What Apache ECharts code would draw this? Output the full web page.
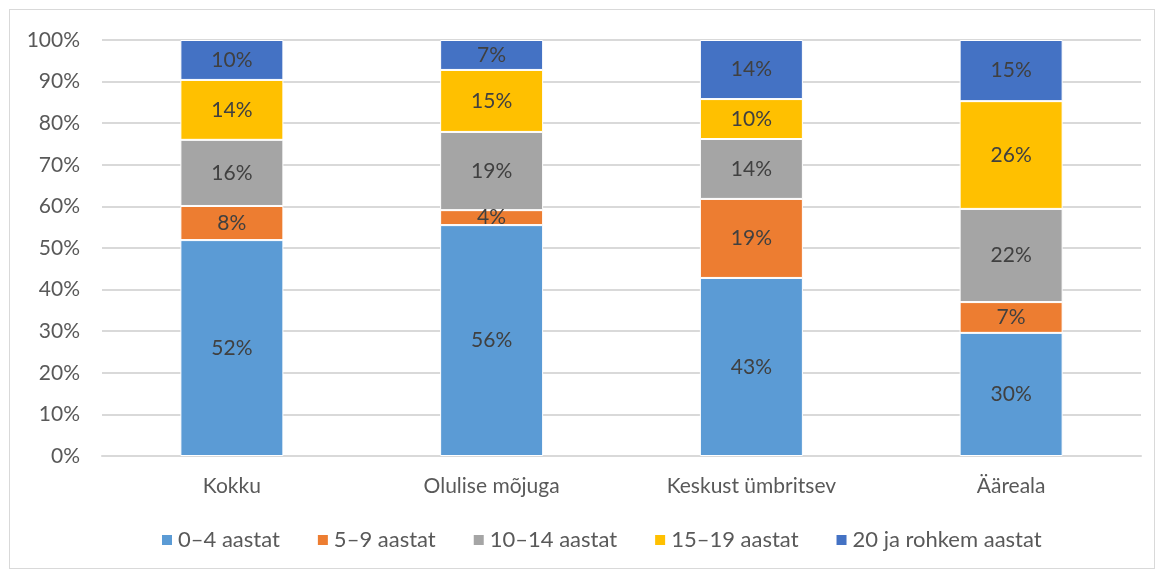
<!DOCTYPE html>
<html>
<head>
<meta charset="utf-8">
<script src="https://cdn.jsdelivr.net/npm/echarts@6/dist/echarts.min.js"></script>
<style>
  html, body { margin: 0; padding: 0; background: #fff; }
  #frame { position: absolute; left: 9px; top: 9px; width: 1146px; height: 560px; border: 1px solid #d9d9d9; box-sizing: border-box; }
  #chart { width: 1163px; height: 571px; }
</style>
</head>
<body>
<div id="frame"></div>
<div id="chart"></div>
<script>
// categories and series (percent shares)
const categories = ['Kokku', 'Olulise mõjuga', 'Keskust ümbritsev', 'Ääreala']
const seriesNames = ['0–4 aastat', '5–9 aastat', '10–14 aastat', '15–19 aastat', '20 ja rohkem aastat']
const age0to4 = [51.9, 55.5, 42.8, 29.6]
const age5to9 = [8.2, 3.6, 19.0, 7.4]
const age10to14 = [15.9, 18.8, 14.4, 22.4]
const age15to19 = [14.4, 14.9, 9.6, 25.9]
const age20plus = [9.6, 7.2, 14.2, 14.7]
const yTicks = ['0%', '10%', '20%', '30%', '40%', '50%', '60%', '70%', '80%', '90%', '100%']

const colors = ['#5b9bd5', '#ed7d31', '#a5a5a5', '#ffc000', '#4472c4']
const allData = [age0to4, age5to9, age10to14, age15to19, age20plus]
const font = 'Lato'

const chart = echarts.init(document.getElementById('chart'))
chart.setOption({
  animation: false,
  grid: { left: 102, right: 22, top: 40, bottom: 115 },
  legend: {
    top: 524,
    left: 155,
    itemWidth: 12,
    itemHeight: 12,
    itemGap: 36,
    icon: 'rect',
    textStyle: { color: '#595959', fontSize: 22, fontFamily: font },
    data: seriesNames
  },
  xAxis: {
    type: 'category',
    data: categories,
    axisLine: { lineStyle: { color: '#d9d9d9', width: 2 } },
    axisTick: { show: false },
    axisLabel: { color: '#595959', fontSize: 21, fontFamily: font, margin: 20 }
  },
  yAxis: {
    type: 'value',
    min: 0,
    max: 100,
    interval: 10,
    axisLine: { show: false },
    axisTick: { show: false },
    splitLine: { lineStyle: { color: '#d9d9d9', width: 2 } },
    axisLabel: {
      color: '#595959', fontSize: 21, fontFamily: font, margin: 22,
      formatter: v => yTicks[Math.round(v / 10)]
    }
  },
  series: seriesNames.map((name, i) => ({
    name,
    type: 'bar',
    stack: 'total',
    barWidth: 103,
    data: allData[i],
    itemStyle: { color: colors[i], borderColor: '#fff', borderWidth: 1 },
    label: {
      show: true,
      position: 'inside',
      color: '#404040',
      fontSize: 21,
      fontFamily: font,
      formatter: p => Math.round(p.value) + '%'
    }
  }))
})
</script>
</body>
</html>
